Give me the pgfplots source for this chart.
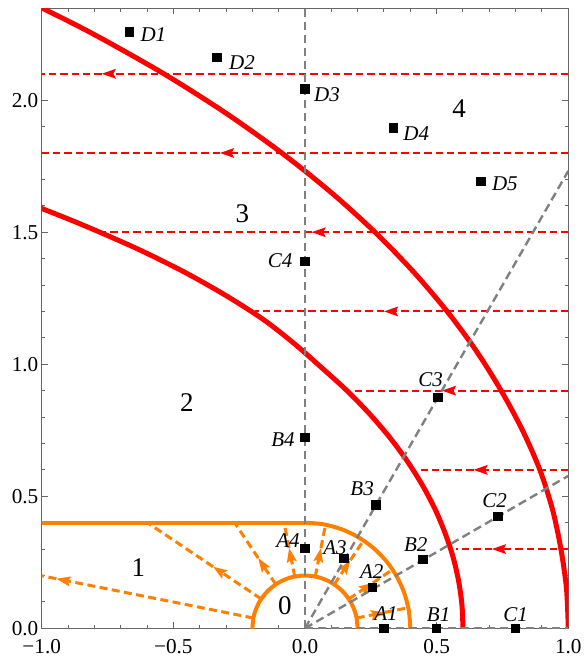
\documentclass[border=0pt]{standalone}
\usepackage{fontspec}
\setmainfont{Liberation Serif}
\usepackage{pgfplots}
\pgfplotsset{compat=1.18}
\usetikzlibrary{arrows.meta}
\definecolor{mred}{rgb}{1,0,0}
\definecolor{morange}{rgb}{1,0.5,0}
\definecolor{mgray}{rgb}{0.5,0.5,0.5}
\definecolor{mframe}{gray}{0.4}
\tikzset{
  arr/.style={-{Stealth[length=7pt,width=4.8pt,inset=1.2pt]}},
  rd/.style={mred, line width=1.05pt, dash pattern=on 3.7pt off 2pt},
  od/.style={morange, line width=1.5pt, dash pattern=on 4pt off 2.2pt},
  gd/.style={mgray, line width=1.2pt, dash pattern=on 4.2pt off 2.3pt},
  lbl/.style={font=\fontsize{10.5}{12}\selectfont\itshape},
  reg/.style={font=\fontsize{13.5}{15}\selectfont},
}
\begin{document}
\begin{tikzpicture}
\useasboundingbox (-20.85pt,-14.35pt) rectangle (270.65pt,314.15pt);
\begin{axis}[
  scale only axis, width=263.3pt, height=310pt,
  xmin=-1, xmax=1, ymin=0, ymax=2.348,
  axis line style={draw=mframe, line width=0.6pt},
  tick align=inside,
  xtick={-1,-0.5,0,0.5,1}, xticklabels={−1.0,−0.5,0.0,0.5,1.0},
  ytick={0,0.5,1,1.5,2}, yticklabels={0.0,0.5,1.0,1.5,2.0},
  minor x tick num=4, minor y tick num=4,
  major tick length=3pt, minor tick length=1.7pt,
  every tick/.style={mframe, line width=0.5pt},
  ticklabel style={font=\fontsize{10.6}{12}\selectfont},
  yticklabel style={inner xsep=1.5pt},
  xticklabel style={yshift=-2pt},
  clip=true,
]
% red dashed horizontal lines with arrows (pointing left)
\addplot[rd, arr] coordinates {(1,0.3) (0.71,0.3)};
\addplot[rd] coordinates {(0.71,0.3) (0.575,0.3)};
\addplot[rd, arr] coordinates {(1,0.6) (0.64,0.6)};
\addplot[rd] coordinates {(0.64,0.6) (0.43,0.6)};
\addplot[rd, arr] coordinates {(1,0.9) (0.52,0.9)};
\addplot[rd] coordinates {(0.52,0.9) (0.185,0.9)};
\addplot[rd, arr] coordinates {(1,1.2) (0.30,1.2)};
\addplot[rd] coordinates {(0.30,1.2) (-0.19,1.2)};
\addplot[rd, arr] coordinates {(1,1.5) (0.025,1.5)};
\addplot[rd] coordinates {(0.025,1.5) (-0.776,1.5)};
\addplot[rd, arr] coordinates {(1,1.8) (-0.323,1.8)};
\addplot[rd] coordinates {(-0.323,1.8) (-1,1.8)};
\addplot[rd, arr] coordinates {(1,2.1) (-0.772,2.1)};
\addplot[rd] coordinates {(-0.772,2.1) (-1,2.1)};
% red boundary curves
\addplot[mred, line width=2.5pt, smooth] coordinates {
 (0.6,0) (0.5959,0.09) (0.5832,0.18) (0.5623,0.27) (0.5322,0.36) (0.4945,0.45)
 (0.447,0.54) (0.3904,0.63) (0.324,0.72) (0.2471,0.81) (0.1594,0.9) (0.0598,0.99)
 (-0.043,1.08) (-0.159,1.17) (-0.30,1.26) (-0.46,1.35) (-0.643,1.44) (-0.85,1.53)
 (-1.0,1.59) (-1.05,1.61)};
\addplot[mred, line width=2.5pt, smooth] coordinates {
 (1.0,0) (0.9931,0.15) (0.972,0.3) (0.94,0.45) (0.892,0.6) (0.826,0.75) (0.745,0.9)
 (0.651,1.05) (0.540,1.2) (0.412,1.35) (0.266,1.5) (0.100,1.65) (-0.088,1.8)
 (-0.299,1.95) (-0.536,2.1) (-0.803,2.25) (-1.001,2.35) (-1.106,2.4)};
% orange region boundaries
\addplot[morange, line width=2pt] coordinates {(-1.02,0.4) (0,0.4)};
\addplot[morange, line width=2pt, smooth] coordinates {
 (0,0.4) (0.06946,0.39392) (0.13681,0.37588) (0.2,0.34641) (0.25712,0.30642)
 (0.30642,0.25712) (0.34641,0.2) (0.37588,0.13681) (0.39392,0.06946) (0.4,0) (0.4,-0.02)};
\addplot[morange, line width=2pt, smooth] coordinates {
 (0.2,-0.02) (0.2,0) (0.19319,0.05176) (0.17321,0.1) (0.14142,0.14142) (0.1,0.17321)
 (0.05176,0.19319) (0,0.2) (-0.05176,0.19319) (-0.1,0.17321) (-0.14142,0.14142)
 (-0.17321,0.1) (-0.19319,0.05176) (-0.2,0) (-0.2,-0.02)};
% orange dashed radial arrows
\addplot[od, arr] coordinates {(0.19616,0.03902) (0.30404,0.06048)};
\addplot[od] coordinates {(0.30404,0.06048) (0.39232,0.07804)};
\addplot[od, arr] coordinates {(0.16629,0.11111) (0.25776,0.17223)};
\addplot[od] coordinates {(0.25776,0.17223) (0.33259,0.22223)};
\addplot[od, arr] coordinates {(0.11111,0.16629) (0.17223,0.25776)};
\addplot[od] coordinates {(0.17223,0.25776) (0.22223,0.33259)};
\addplot[od, arr] coordinates {(0.03902,0.19616) (0.06048,0.30404)};
\addplot[od] coordinates {(0.06048,0.30404) (0.07804,0.39232)};
\addplot[od, arr] coordinates {(-0.03902,0.19616) (-0.06048,0.30404)};
\addplot[od] coordinates {(-0.06048,0.30404) (-0.07956,0.4)};
\addplot[od, arr] coordinates {(-0.11111,0.16629) (-0.17778,0.26607)};
\addplot[od] coordinates {(-0.17778,0.26607) (-0.26727,0.4)};
\addplot[od, arr] coordinates {(-0.16629,0.11111) (-0.34922,0.23334)};
\addplot[od] coordinates {(-0.34922,0.23334) (-0.59865,0.4)};
\addplot[od, arr] coordinates {(-0.19616,0.03902) (-0.94450,0.18787)};
\addplot[od] coordinates {(-0.94450,0.18787) (-1.02,0.2029)};
% gray dashed rays
\addplot[gd] coordinates {(0,0) (0,2.4)};
\addplot[gd] coordinates {(0,0) (1,1.7321)};
\addplot[gd] coordinates {(0,0) (1,0.5774)};
\addplot[gd] coordinates {(0,0) (1,0)};
% points
\addplot[only marks, mark=square*, mark size=2.1pt, black] coordinates {
 (-0.667,2.259) (-0.334,2.161) (0,2.042) (0.335,1.895) (0.668,1.693)
 (0,1.390) (0.504,0.875) (0.732,0.423) (0.80,0)
 (0,0.723) (0.27,0.468) (0.447,0.26) (0.50,0)
 (0,0.302) (0.148,0.264) (0.257,0.154) (0.30,0)};
% point labels
\node[lbl, xshift=12pt, yshift=-1.5pt] at (axis cs:-0.667,2.259) {D1};
\node[lbl, xshift=12.5pt, yshift=-2.5pt] at (axis cs:-0.334,2.161) {D2};
\node[lbl, xshift=11pt, yshift=-3pt] at (axis cs:0,2.042) {D3};
\node[lbl, xshift=11.5pt, yshift=-3pt] at (axis cs:0.335,1.895) {D4};
\node[lbl, xshift=12pt, yshift=-1pt] at (axis cs:0.668,1.693) {D5};
\node[lbl, xshift=-12.5pt, yshift=0.5pt] at (axis cs:0,1.390) {C4};
\node[lbl, xshift=-3.5pt, yshift=9pt] at (axis cs:0.504,0.875) {C3};
\node[lbl, xshift=-1.5pt, yshift=8pt] at (axis cs:0.732,0.423) {C2};
\node[lbl, xshift=0pt, yshift=7pt] at (axis cs:0.80,0) {C1};
\node[lbl, xshift=-11pt, yshift=-1pt] at (axis cs:0,0.723) {B4};
\node[lbl, xshift=-7pt, yshift=8pt] at (axis cs:0.27,0.468) {B3};
\node[lbl, xshift=-3.5pt, yshift=7.5pt] at (axis cs:0.447,0.26) {B2};
\node[lbl, xshift=1pt, yshift=7pt] at (axis cs:0.50,0) {B1};
\node[lbl, xshift=-8.5pt, yshift=4pt] at (axis cs:0,0.302) {A4};
\node[lbl, xshift=-4.5pt, yshift=5.5pt] at (axis cs:0.148,0.264) {A3};
\node[lbl, xshift=-0.5pt, yshift=8pt] at (axis cs:0.257,0.154) {A2};
\node[lbl, xshift=1pt, yshift=7.5pt] at (axis cs:0.30,0) {A1};
% region labels
\node[reg] at (axis cs:-0.076,0.085) {0};
\node[reg] at (axis cs:-0.633,0.23) {1};
\node[reg] at (axis cs:-0.449,0.856) {2};
\node[reg] at (axis cs:-0.238,1.571) {3};
\node[reg] at (axis cs:0.585,1.969) {4};
\end{axis}
\end{tikzpicture}
\end{document}
